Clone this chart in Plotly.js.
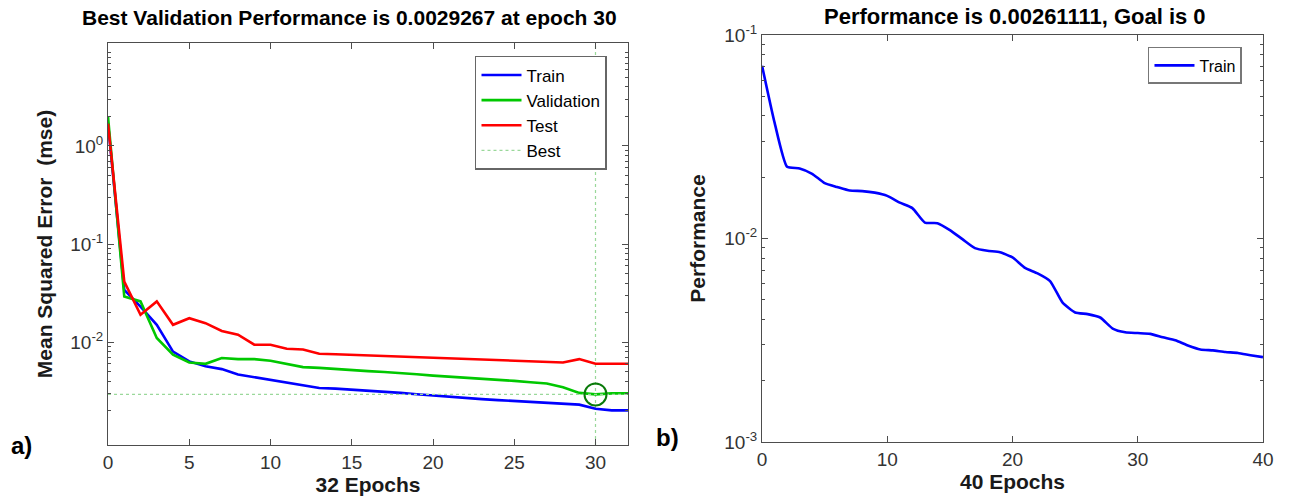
<!DOCTYPE html>
<html>
<head>
<meta charset="utf-8">
<script src="https://cdn.plot.ly/plotly-3.0.1.min.js"></script>
<style>html,body{margin:0;padding:0;background:#fff;}#chart{width:1289px;height:502px;}</style>
</head>
<body>
<div id="chart"></div>
<script>
// ---- Data: panel a) ----
var epochsA = [0,1,2,3,4,5,6,7,8,9,10,11,12,13,14,15,16,17,18,19,20,21,22,23,24,25,26,27,28,29,30,31,32];
var trainA = [1.69,0.034,0.023,0.015,0.0080,0.00635,0.00566,0.0053,0.00467,0.00438,0.0041,0.00385,0.00363,0.0034,0.00335,0.00328,0.0032,0.00313,0.00303,0.00294,0.00285,0.00276,0.00268,0.00262,0.00256,0.0025,0.00245,0.00241,0.00237,0.0023,0.00209,0.00201,0.00201];
var validA = [1.98,0.0291,0.026,0.011,0.00743,0.0062,0.0060,0.00687,0.0067,0.0067,0.00644,0.00598,0.00555,0.00546,0.0053,0.00515,0.00505,0.00495,0.00485,0.0047,0.00455,0.00445,0.00435,0.00425,0.00412,0.00402,0.0039,0.00378,0.00346,0.00303,0.0029267,0.0030,0.0030];
var testA  = [1.69,0.0414,0.019,0.026,0.015,0.0175,0.0156,0.013,0.0119,0.0094,0.0094,0.00855,0.0084,0.0076,0.0075,0.0074,0.0073,0.0072,0.0071,0.00705,0.0070,0.0069,0.0068,0.0067,0.0066,0.0065,0.0064,0.0063,0.0062,0.0067,0.0060,0.0060,0.0060];
var bestEpoch = 30;
var bestValue = 0.0029267;
var maxEpochA = 32;

// ---- Data: panel b) ----
var epochsB = [0,1,2,3,4,5,6,7,8,9,10,11,12,13,14,15,16,17,18,19,20,21,22,23,24,25,26,27,28,29,30,31,32,33,34,35,36,37,38,39,40];
var trainB = [0.0706,0.0371,0.0225,0.0221,0.0208,0.0187,0.0179,0.0172,0.0171,0.0168,0.0162,0.0150,0.0141,0.01197,0.0119,0.0110,0.00993,0.00897,0.0087,0.00856,0.00807,0.00717,0.00674,0.00618,0.00484,0.00433,0.00425,0.00409,0.00361,0.00346,0.00343,0.0034,0.00327,0.00316,0.00298,0.00285,0.00282,0.00277,0.00274,0.00267,0.00261111];
var maxEpochB = 40;

// ---- Tick labels ----
var yTickValsA = [1, 0.1, 0.01];
var yTickTextA = ['10<sup>0</sup>', '10<sup>-1</sup>', '10<sup>-2</sup>'];
var yTickValsB = [0.1, 0.01, 0.001];
var yTickTextB = ['10<sup>-1</sup>', '10<sup>-2</sup>', '10<sup>-3</sup>'];

function minorTicks(lo, hi) {
  var out = [];
  for (var d = lo; d <= hi; d++) {
    for (var k = 2; k <= 9; k++) out.push(k * Math.pow(10, d));
  }
  return out;
}

var FONT = 'Liberation Sans, Arial, sans-serif';
var axisLine = '#4d4d4d';
var tickColor = '#333333';

var traces = [
  {x: epochsA, y: trainA, name: 'Train', mode: 'lines', line: {color: '#0000ff', width: 2.6}, xaxis: 'x', yaxis: 'y', legend: 'legend'},
  {x: epochsA, y: validA, name: 'Validation', mode: 'lines', line: {color: '#00c800', width: 2.6}, xaxis: 'x', yaxis: 'y', legend: 'legend'},
  {x: epochsA, y: testA, name: 'Test', mode: 'lines', line: {color: '#ff0000', width: 2.6}, xaxis: 'x', yaxis: 'y', legend: 'legend'},
  {x: [0, maxEpochA], y: [bestValue, bestValue], name: 'Best', mode: 'lines', line: {color: '#9ad89a', width: 1.2, dash: 'dot'}, xaxis: 'x', yaxis: 'y', legend: 'legend'},
  {x: [bestEpoch], y: [bestValue], mode: 'markers', showlegend: false, marker: {symbol: 'circle-open', size: 22, color: '#0a7a0a', line: {width: 2, color: '#0a7a0a'}}, xaxis: 'x', yaxis: 'y'},
  {x: epochsB, y: trainB, name: 'Train', mode: 'lines', line: {color: '#0000ff', width: 2.6, shape: 'spline', smoothing: 0.5}, xaxis: 'x2', yaxis: 'y2', legend: 'legend2'}
];

var baseAxis = {
  showgrid: false, zeroline: false, showline: true, linecolor: axisLine, linewidth: 1,
  mirror: 'ticks', ticks: 'inside', ticklen: 6, tickcolor: axisLine,
  tickfont: {family: FONT, size: 19, color: tickColor}
};

function ext(o, p) { var r = {}; for (var k in o) r[k] = o[k]; for (var k2 in p) r[k2] = p[k2]; return r; }

var layout = {
  width: 1289, height: 502,
  margin: {l: 0, r: 0, t: 0, b: 0},
  paper_bgcolor: '#ffffff', plot_bgcolor: '#ffffff',
  font: {family: FONT, color: '#000'},
  xaxis: ext(baseAxis, {domain: [0.0838, 0.4872], range: [0, maxEpochA], dtick: 5, tick0: 0,
    title: {text: '<b>32 Epochs</b>', font: {family: FONT, size: 21, color: '#1a1a1a'}, standoff: 1}}),
  yaxis: ext(baseAxis, {domain: [0.1135, 0.9143], type: 'log', range: [-3.05, 1.05],
    tickvals: yTickValsA, ticktext: yTickTextA,
    minor: {tickvals: minorTicks(-4, 1), ticks: 'inside', ticklen: 3, tickcolor: axisLine},
    title: {text: '<b>Mean Squared Error  (mse)</b>', font: {family: FONT, size: 21, color: '#1a1a1a'}, standoff: 11}}),
  xaxis2: ext(baseAxis, {domain: [0.5912, 0.9798], range: [0, maxEpochB], dtick: 10, tick0: 0, anchor: 'y2',
    title: {text: '<b>40 Epochs</b>', font: {family: FONT, size: 21, color: '#1a1a1a'}, standoff: 1}}),
  yaxis2: ext(baseAxis, {domain: [0.1195, 0.9303], type: 'log', range: [-3, -1], anchor: 'x2',
    tickvals: yTickValsB, ticktext: yTickTextB,
    minor: {tickvals: minorTicks(-3, -2), ticks: 'inside', ticklen: 3, tickcolor: axisLine},
    title: {text: '<b>Performance</b>', font: {family: FONT, size: 21, color: '#1a1a1a'}, standoff: 12}}),
  legend: {x: 0.3685, y: 0.8885, xanchor: 'left', yanchor: 'top', bgcolor: '#fff', bordercolor: '#666', borderwidth: 1.5,
    font: {family: FONT, size: 17, color: '#000'}, tracegroupgap: 0, itemwidth: 40},
  legend2: {x: 0.8906, y: 0.9064, xanchor: 'left', yanchor: 'top', bgcolor: '#fff', bordercolor: '#777', borderwidth: 1.5,
    font: {family: FONT, size: 16, color: '#000'}, itemwidth: 40},
  shapes: [
    {type: 'line', xref: 'x', yref: 'y domain', x0: bestEpoch, x1: bestEpoch, y0: 0, y1: 1,
     line: {color: '#9ad89a', width: 1.2, dash: 'dot'}, layer: 'below'}
  ],
  annotations: [
    {text: '<b>Best Validation Performance is 0.0029267 at epoch 30</b>', xref: 'paper', yref: 'paper', x: 0.2715, y: 0.965, xanchor: 'center', yanchor: 'middle', showarrow: false, font: {family: FONT, size: 21, color: '#000'}},
    {text: '<b>Performance is 0.00261111, Goal is 0</b>', xref: 'paper', yref: 'paper', x: 0.7875, y: 0.968, xanchor: 'center', yanchor: 'middle', showarrow: false, font: {family: FONT, size: 22, color: '#000'}},
    {text: '<b>a)</b>', xref: 'paper', yref: 'paper', x: 0.017, y: 0.113, xanchor: 'center', yanchor: 'middle', showarrow: false, font: {family: FONT, size: 24, color: '#000'}},
    {text: '<b>b)</b>', xref: 'paper', yref: 'paper', x: 0.518, y: 0.129, xanchor: 'center', yanchor: 'middle', showarrow: false, font: {family: FONT, size: 24, color: '#000'}}
  ]
};

Plotly.newPlot('chart', traces, layout, {staticPlot: true, displayModeBar: false});
</script>
</body>
</html>
